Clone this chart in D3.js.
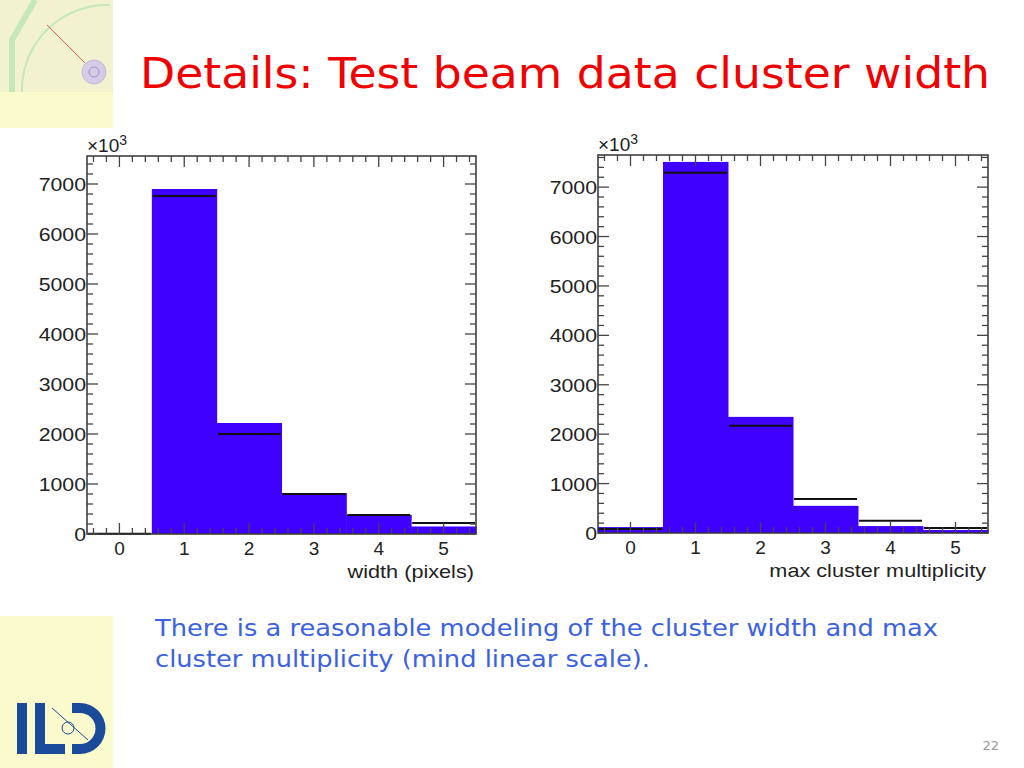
<!DOCTYPE html>
<html>
<head>
<meta charset="utf-8">
<script src="https://cdn.jsdelivr.net/npm/d3@7"></script>
<style>
  body { margin: 0; background: #fff; }
  svg { display: block; }
</style>
</head>
<body>
<svg width="1024" height="768"></svg>
<script>
// Bin centers and contents (units of 10^3 entries)
const bins = [0, 1, 2, 3, 4, 5];
const widthData = [5, 6900, 2220, 820, 380, 150];
const widthSim = [5, 6760, 2000, 800, 380, 220];
const multData = [120, 7510, 2350, 550, 140, 60];
const multSim = [80, 7290, 2170, 690, 250, 100];
const yTicks = [0, 1000, 2000, 3000, 4000, 5000, 6000, 7000];

const svg = d3.select("svg");

// stretch text horizontally a bit (the reference fonts are wider)
function widen(sel, f) {
    sel.each(function() {
        const w = this.getComputedTextLength();
        d3.select(this).attr("textLength", w * f).attr("lengthAdjust", "spacingAndGlyphs");
    });
}

// Slide background decoration
svg.append("rect").attr("x", 0).attr("y", 0).attr("width", 113).attr("height", 768).attr("fill", "#fbfacd");
svg.append("rect").attr("x", 0).attr("y", 0).attr("width", 113).attr("height", 92).attr("fill", "#f3f2cf");
svg.append("path").attr("d", "M35,0 L12,40 L12,92").attr("fill", "none").attr("stroke", "#c5e8b8").attr("stroke-width", 6);
svg.append("path").attr("d", "M110,5 A85,85 0 0 0 22,92").attr("fill", "none").attr("stroke", "#c5e8b8").attr("stroke-width", 2);
svg.append("line").attr("x1", 47).attr("y1", 25).attr("x2", 85).attr("y2", 63).attr("stroke", "#e06060").attr("stroke-width", 1);
svg.append("circle").attr("cx", 94).attr("cy", 72).attr("r", 12).attr("fill", "#d6cce8").attr("stroke", "#c0b8dd");
svg.append("circle").attr("cx", 94).attr("cy", 72).attr("r", 5).attr("fill", "none").attr("stroke", "#a090c0");
svg.append("rect").attr("x", 0).attr("y", 128).attr("width", 1000).attr("height", 488).attr("fill", "#fff");

// Title
svg.append("text").attr("x", 140).attr("y", 88)
    .attr("font-family", "DejaVu Sans").attr("font-size", 43).attr("fill", "#f20000")
    .attr("textLength", 850).attr("lengthAdjust", "spacingAndGlyphs")
    .text("Details: Test beam data cluster width");

function drawHist(x0, x1, yTop, yBottom, yMax, data, sim, xlabel) {
    const x = d3.scaleLinear().domain([-0.5, 5.5]).range([x0, x1]);
    const y = d3.scaleLinear().domain([0, yMax]).range([yBottom, yTop]);
    const g = svg.append("g");

    // Filled histogram
    g.selectAll(".bar").data(bins).enter().append("rect")
        .attr("x", d => x(d - 0.5))
        .attr("width", x(1) - x(0) + 0.5)
        .attr("y", (d, i) => y(data[i]))
        .attr("height", (d, i) => y(0) - y(data[i]))
        .attr("fill", "#4000ff");

    // Simulation levels
    g.selectAll(".sim").data(bins).enter().append("line")
        .attr("x1", d => x(d - 0.5) + 1)
        .attr("x2", d => x(d + 0.5) - 1)
        .attr("y1", (d, i) => y(sim[i]))
        .attr("y2", (d, i) => y(sim[i]))
        .attr("stroke", "#111").attr("stroke-width", 2);

    // Frame
    g.append("rect").attr("x", x0).attr("y", yTop).attr("width", x1 - x0).attr("height", yBottom - yTop)
        .attr("fill", "none").attr("stroke", "#333").attr("stroke-width", 1.5);

    const tickStyle = sel => sel.attr("stroke", "#444").attr("stroke-width", 1.3);
    const xMinor = d3.range(-2, 28).map(k => k * 0.2).filter(v => v > -0.5 && v < 5.5);
    xMinor.forEach(v => {
        const major = Math.abs(v - Math.round(v)) < 1e-6;
        const len = major ? 11 : 6;
        tickStyle(g.append("line").attr("x1", x(v)).attr("x2", x(v)).attr("y1", yBottom).attr("y2", yBottom - len));
        tickStyle(g.append("line").attr("x1", x(v)).attr("x2", x(v)).attr("y1", yTop).attr("y2", yTop + len));
    });
    d3.range(0, yMax, 200).forEach(v => {
        const major = v % 1000 === 0;
        const len = major ? 11 : 6;
        tickStyle(g.append("line").attr("x1", x0).attr("x2", x0 + len).attr("y1", y(v)).attr("y2", y(v)));
        tickStyle(g.append("line").attr("x1", x1).attr("x2", x1 - len).attr("y1", y(v)).attr("y2", y(v)));
    });

    const font = "Liberation Sans";
    g.selectAll(".xl").data(bins).enter().append("text")
        .attr("x", d => x(d)).attr("y", yBottom + 21)
        .attr("text-anchor", "middle").attr("font-family", font).attr("font-size", 19).attr("fill", "#222")
        .text(d => d);
    g.selectAll(".yl").data(yTicks).enter().append("text")
        .attr("x", x0 - 1).attr("y", d => y(d) + 7)
        .attr("text-anchor", "end").attr("font-family", font).attr("font-size", 19).attr("fill", "#222")
        .text(d => d)
        .call(widen, 1.12);
    g.append("text").attr("x", x1 - 2).attr("y", yBottom + 44)
        .attr("text-anchor", "end").attr("font-family", font).attr("font-size", 19).attr("fill", "#222")
        .text(xlabel)
        .call(widen, 1.14);
    const mult = g.append("text").attr("x", x0).attr("y", yTop - 4)
        .attr("font-family", font).attr("font-size", 19).attr("fill", "#222");
    mult.append("tspan").text("×10");
    mult.append("tspan").attr("dy", -7).attr("font-size", 14).text("3");
}

drawHist(87, 476, 156, 534, 7560, widthData, widthSim, "width (pixels)");
drawHist(598, 988, 155, 533, 7650, multData, multSim, "max cluster multiplicity");

// Comment text
const note = svg.append("text").attr("font-family", "DejaVu Sans").attr("font-size", 23).attr("fill", "#3b62e0");
note.append("tspan").attr("x", 155).attr("y", 636).attr("textLength", 783).attr("lengthAdjust", "spacingAndGlyphs")
    .text("There is a reasonable modeling of the cluster width and max");
note.append("tspan").attr("x", 155).attr("y", 667).attr("textLength", 495).attr("lengthAdjust", "spacingAndGlyphs")
    .text("cluster multiplicity (mind linear scale).");

// ILD logo
const logo = svg.append("g").attr("fill", "#1a4a9a");
logo.append("rect").attr("x", 17).attr("y", 703).attr("width", 10).attr("height", 51);
logo.append("path").attr("d", "M35,703 h10 v41 h20 v10 h-30 z");
logo.append("path").attr("d", "M72,703 h8 a25.5,25.5 0 0 1 0,51 h-8 v-10 h8 a15.5,15.5 0 0 0 0,-31 h-8 z");
logo.append("circle").attr("cx", 68).attr("cy", 728).attr("r", 6).attr("fill", "none").attr("stroke", "#1a4a9a");
logo.append("line").attr("x1", 52).attr("y1", 708).attr("x2", 88).attr("y2", 740).attr("stroke", "#1a4a9a");

svg.append("text").attr("x", 999).attr("y", 750).attr("text-anchor", "end")
    .attr("font-family", "DejaVu Sans").attr("font-size", 13).attr("fill", "#999").text("22");
</script>
</body>
</html>
